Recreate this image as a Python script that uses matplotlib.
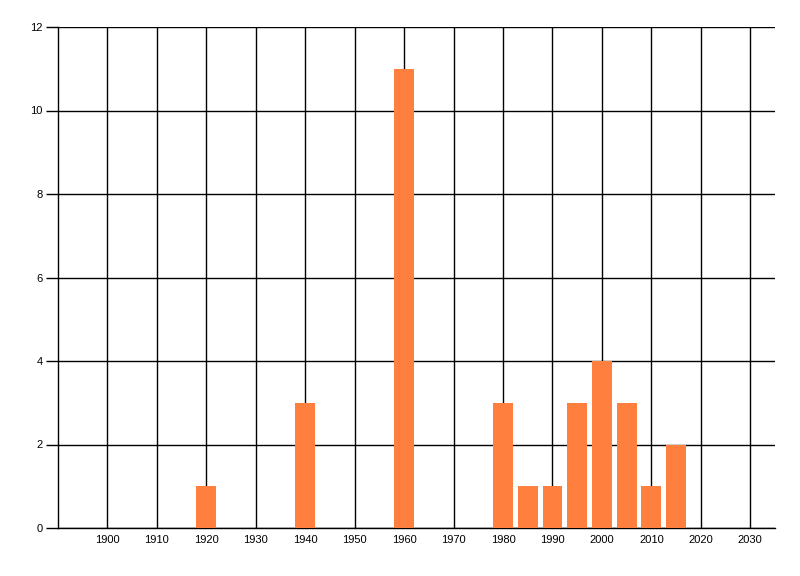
import matplotlib
matplotlib.use('Agg')
import matplotlib.pyplot as plt

years = [1920, 1940, 1960, 1980, 1985, 1990, 1995, 2000, 2005, 2010, 2015]
counts = [1, 3, 11, 3, 1, 1, 3, 4, 3, 1, 2]
x_ticks = list(range(1900, 2031, 10))
y_ticks = [0, 2, 4, 6, 8, 10, 12]

plt.rcParams['font.family'] = ['Liberation Sans', 'DejaVu Sans']

fig = plt.figure(figsize=(8, 5.76), dpi=100)
ax = fig.add_axes([58 / 800, 1 - 528 / 576, (775 - 58) / 800, (528 - 27) / 576])

ax.bar(years, counts, width=4, color='#ff7f3f', zorder=3)

ax.set_xlim(1890, 2035)
ax.set_ylim(0, 12)
ax.set_xticks(x_ticks)
ax.set_yticks(y_ticks)

# grid lines drawn in black like the original control
ax.grid(True, color='black', linewidth=1, zorder=1)
ax.set_axisbelow(True)

for side in ['top', 'right']:
    ax.spines[side].set_visible(False)
ax.spines['left'].set_linewidth(1)
ax.spines['bottom'].set_linewidth(1)

ax.tick_params(axis='y', length=9, width=1, pad=2, labelsize=8)
ax.tick_params(axis='x', length=0, pad=5, labelsize=8)

fig.savefig('out.png', dpi=100)
